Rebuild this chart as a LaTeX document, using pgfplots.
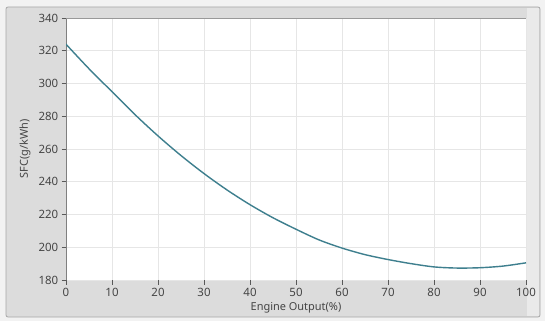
\documentclass[border=0pt]{standalone}
\usepackage{pgfplots}
\pgfplotsset{compat=1.18}
\usepackage{fontspec}
\setmainfont{Noto Sans}
\definecolor{bgout}{HTML}{F2F2F2}
\definecolor{panel}{HTML}{DCDCDC}
\definecolor{panelborder}{HTML}{A8A8A8}
\definecolor{gridc}{HTML}{E6E6E6}
\definecolor{curve}{HTML}{3E7F8E}
\definecolor{txt}{HTML}{454545}
\begin{document}
\begin{tikzpicture}[x=1bp,y=1bp]
\useasboundingbox (0,0) rectangle (545,321);
\fill[bgout] (0,0) rectangle (545,321);
\fill[panel,draw=panelborder,line width=0.8bp,rounded corners=2bp] (6,4) rectangle (540,314);
\fill[panel!60!white] (527,5) rectangle (539,313);
\begin{axis}[
  at={(66bp,41bp)}, anchor=south west,
  scale only axis, width=460bp, height=262bp,
  xmin=0, xmax=100, ymin=180, ymax=340,
  xtick={0,10,...,100}, ytick={180,200,...,340},
  axis background/.style={fill=white},
  grid=major, major grid style={gridc, line width=0.6bp},
  axis x line*=bottom, axis y line*=left,
  x axis line style={draw=none, -}, y axis line style={draw=black!50, line width=0.9bp, -},
  tick align=outside, major tick length=4.5bp,
  every tick/.style={black!65, line width=0.7bp},
  tick label style={font=\fontsize{11.5}{13}\selectfont, text=txt},
  xticklabel style={inner sep=0pt, yshift=-3bp},
  yticklabel style={inner sep=0pt, xshift=-3bp},
  /pgf/number format/assume math mode=true,
  xlabel={Engine Output(\%)}, ylabel={SFC(g/kWh)},
  label style={font=\fontsize{11}{13}\selectfont, text=txt},
  xlabel style={at={(axis description cs:0.5,-0.107)}, anchor=center},
  ylabel style={at={(axis description cs:-0.089,0.5)}, anchor=center},
  clip=true,
]
\addplot[curve, line width=1.4bp, smooth] coordinates {
(0,324) (5,309) (10,295) (15,281) (20,268) (25,256) (30,245) (35,235)
(40,226) (45,218) (50,211) (55,204.5) (60,199.5) (65,195.5) (70,192.5)
(75,190) (80,188) (85,187.3) (90,187.5) (95,188.5) (100,190.5)
};
\draw[black!40, line width=0.9bp] (rel axis cs:0,1) -- (rel axis cs:1,1);
\end{axis}
\end{tikzpicture}
\end{document}
